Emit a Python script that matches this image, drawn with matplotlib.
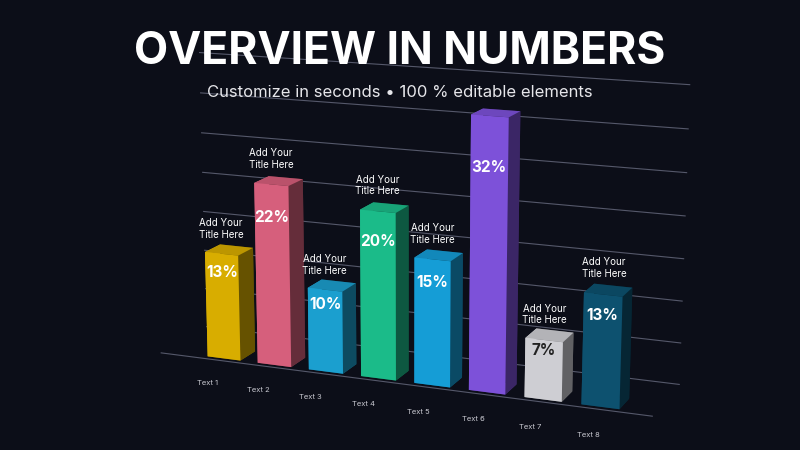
import matplotlib
matplotlib.use("Agg")
import matplotlib.pyplot as plt
import numpy as np

categories = ["Text 1","Text 2","Text 3","Text 4","Text 5","Text 6","Text 7","Text 8"]
values = [13, 22, 10, 20, 15, 32, 7, 13]
colors = ["#f5c400","#f26b8c","#1fb4ea","#1fd49b","#18b2f2","#8e5cf6","#e9e9ef","#0f5c7e"]
show_title = [True, True, True, True, True, False, True, True]
grid_levels = [0, 5, 10, 15, 20, 25, 30, 35]

bg = "#0c0e18"
fig = plt.figure(figsize=(8, 4.5), dpi=100, facecolor=bg)
fig.text(0.5, 0.885, "OVERVIEW IN NUMBERS", color="white", ha="center", va="center",
         fontsize=32, fontweight="bold", family="Inter")
fig.text(0.5, 0.795, "Customize in seconds • 100 % editable elements", color="#e6e6ea",
         ha="center", va="center", fontsize=12, family="Inter")

ax = fig.add_axes([-0.2, -0.2, 1.4, 1.35], projection="3d", facecolor=bg)
ax.set_facecolor(bg)
ax.set_axis_off()
ax.view_init(elev=14, azim=-68)
ax.set_proj_type("persp", focal_length=0.6)

n = len(values)
xs = np.arange(n) * 1.6
w, d = 1.05, 0.9
xlo, xhi = xs[0] - 1.4, xs[-1] + 2.0
for g in grid_levels:
    ax.plot([xlo, xhi], [2.5, 2.5], [g, g], color="#55586a", lw=0.8, zorder=0)
ax.plot([xlo, xhi], [-0.2, -0.2], [0, 0], color="#55586a", lw=0.8)

for i, (x, v, c) in enumerate(zip(xs, values, colors)):
    ax.bar3d(x, 0, 0, w, d, v, color=c, shade=True, edgecolor="none", alpha=1, zorder=10+i)
    tc = "#222222" if c == "#e9e9ef" else "white"
    ax.text(x + w/2, 0, v*0.82, f"{v}%", color=tc, fontsize=11, fontweight="bold",
            ha="center", va="center", zorder=100, family="Inter")
    if show_title[i]:
        ax.text(x + w/2, 0, v + 3.0, "Add Your\nTitle Here", color="white", fontsize=7,
                ha="center", va="center", zorder=100, family="Inter")
    ax.text(x + w/2, -1.0, -1.8, categories[i], color="#c8c8d0", fontsize=5.5,
            ha="center", va="center", family="Inter")

ax.set_xlim(xlo, xhi)
ax.set_ylim(-1, 2.5)
ax.set_zlim(0, 35)
ax.set_box_aspect((14, 3.5, 8))
fig.savefig("out.png", dpi=100, facecolor=bg)
